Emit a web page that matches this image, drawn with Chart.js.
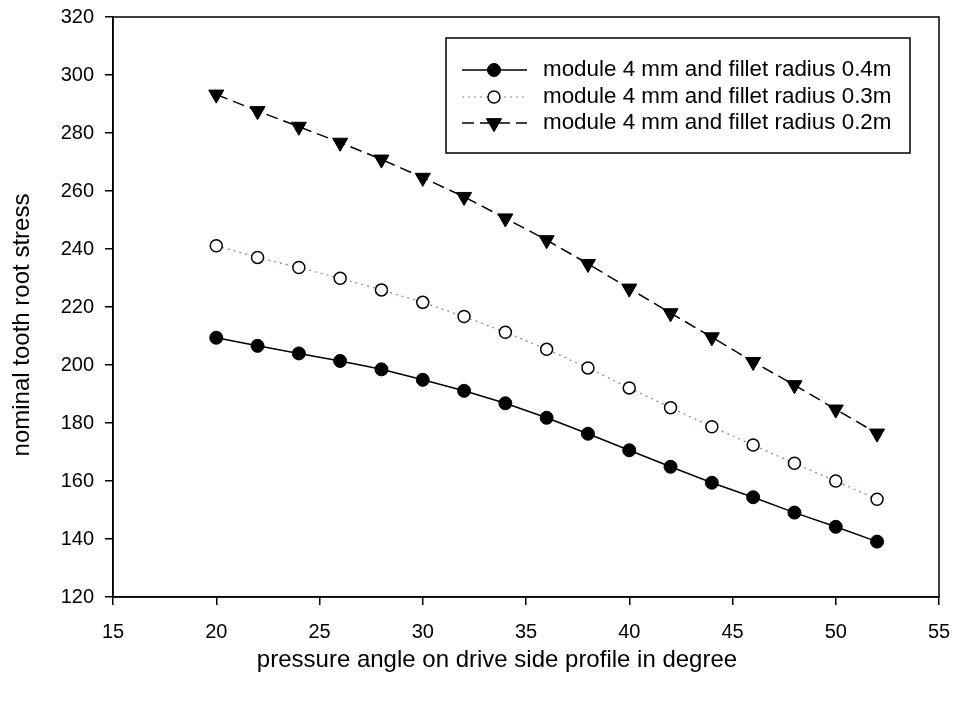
<!DOCTYPE html>
<html>
<head>
<meta charset="utf-8">
<script src="https://cdn.jsdelivr.net/npm/chart.js@4/dist/chart.umd.min.js"></script>
<style>
html,body{margin:0;padding:0;background:#fff;}
#wrap{width:955px;height:701px;position:relative;}
</style>
</head>
<body>
<div id="wrap"><canvas id="c" width="955" height="701"></canvas></div>
<script>
const angles = [20,22,24,26,28,30,32,34,36,38,40,42,44,46,48,50,52];
const stress04 = [209.4,206.6,204.0,201.4,198.5,194.9,191.1,186.8,181.8,176.3,170.6,164.9,159.4,154.4,149.1,144.2,139.1];
const stress03 = [241.1,237.1,233.6,229.9,225.9,221.6,216.7,211.3,205.4,199.0,192.1,185.3,178.7,172.4,166.1,160.0,153.7];
const stress02 = [293.3,287.6,282.2,276.7,270.9,264.6,258.0,250.6,243.1,234.9,226.4,217.9,209.6,201.1,193.1,184.7,176.4];
const seriesLabels = ['module 4 mm and fillet radius 0.4m','module 4 mm and fillet radius 0.3m','module 4 mm and fillet radius 0.2m'];
const xTitle = 'pressure angle on drive side profile in degree';
const yTitle = 'nominal tooth root stress';

const FONT = "'Liberation Sans', Arial, sans-serif";
const toPts = ys => angles.map((a,i)=>({x:a,y:ys[i]}));

const frame = {
  id:'frame',
  afterDraw(chart){
    const {ctx, chartArea:a} = chart;
    ctx.save();
    ctx.strokeStyle='#000'; ctx.lineWidth=1.5;
    ctx.strokeRect(a.left, a.top, a.right-a.left, a.bottom-a.top);
    ctx.restore();
  }
};

const axisTitles = {
  id:'axisTitles',
  afterDraw(chart){
    const ctx = chart.ctx;
    ctx.save();
    ctx.fillStyle='#000';
    ctx.font='24px '+FONT;
    ctx.textAlign='center'; ctx.textBaseline='middle';
    ctx.fillText(xTitle, 497, 660);
    ctx.translate(22, 325);
    ctx.rotate(-Math.PI/2);
    ctx.fillText(yTitle, 0, 0);
    ctx.restore();
  }
};

const boxLegend = {
  id:'boxLegend',
  afterDraw(chart){
    const ctx = chart.ctx;
    ctx.save();
    ctx.fillStyle='#fff';
    ctx.fillRect(446,38,464,115);
    ctx.strokeStyle='#000'; ctx.lineWidth=1.5;
    ctx.strokeRect(446,38,464,115);
    const rows=[70,97,123];
    chart.data.datasets.forEach((ds,i)=>{
      const y=rows[i];
      ctx.save();
      ctx.strokeStyle=ds.borderColor; ctx.lineWidth=ds.borderWidth;
      ctx.setLineDash(ds.borderDash||[]);
      ctx.beginPath(); ctx.moveTo(462,y); ctx.lineTo(527,y); ctx.stroke();
      ctx.restore();
      const mx=494;
      ctx.save();
      ctx.setLineDash([]);
      ctx.lineWidth=ds.pointBorderWidth; ctx.strokeStyle='#000'; ctx.fillStyle=ds.pointBackgroundColor;
      ctx.beginPath();
      if(ds.pointStyle==='triangle'){
        const r=ds.pointRadius;
        const h=r*Math.sqrt(3)/2;
        ctx.moveTo(mx-h, y-r*0.5); ctx.lineTo(mx+h, y-r*0.5); ctx.lineTo(mx, y+r); ctx.closePath();
      } else {
        ctx.arc(mx,y,ds.pointRadius,0,Math.PI*2);
      }
      ctx.fill(); ctx.stroke();
      ctx.restore();
      ctx.fillStyle='#000'; ctx.font='22.4px '+FONT; ctx.textBaseline='middle'; ctx.textAlign='left';
      ctx.fillText(ds.label, 543, y);
    });
    ctx.restore();
  }
};

new Chart(document.getElementById('c'), {
  type:'scatter',
  data:{datasets:[
    {label:seriesLabels[0], data:toPts(stress04), showLine:true, borderColor:'#000', borderWidth:1.5,
     pointStyle:'circle', pointRadius:6.5, pointBackgroundColor:'#000', pointBorderColor:'#000', pointBorderWidth:1},
    {label:seriesLabels[1], data:toPts(stress03), showLine:true, borderColor:'#a66cb0', borderWidth:1.2, borderDash:[2,4],
     pointStyle:'circle', pointRadius:6, pointBackgroundColor:'#fff', pointBorderColor:'#000', pointBorderWidth:1.5},
    {label:seriesLabels[2], data:toPts(stress02), showLine:true, borderColor:'#000', borderWidth:1.5, borderDash:[12,6],
     pointStyle:'triangle', pointRotation:180, pointRadius:8.7, pointBackgroundColor:'#000', pointBorderColor:'#000', pointBorderWidth:1}
  ]},
  options:{
    responsive:false, animation:false,
    layout:{padding:{left:0,right:16,top:17,bottom:0}},
    plugins:{legend:{display:false}, tooltip:{enabled:false}},
    scales:{
      x:{type:'linear', min:15, max:55,
        ticks:{stepSize:5, color:'#000', font:{family:FONT,size:20}, padding:15},
        grid:{display:true, drawOnChartArea:false, drawTicks:true, tickLength:8, color:'#000', lineWidth:1.5},
        border:{display:true, color:'#000', width:1.5},
        title:{display:false},
        afterFit(s){ s.height=104; s.paddingLeft=0; s.paddingRight=0; }
      },
      y:{type:'linear', min:120, max:320,
        ticks:{stepSize:20, color:'#000', font:{family:FONT,size:20}, padding:11},
        grid:{display:true, drawOnChartArea:false, drawTicks:true, tickLength:8, color:'#000', lineWidth:1.5},
        border:{display:true, color:'#000', width:1.5},
        title:{display:false},
        afterFit(s){ s.width=113; s.paddingTop=0; s.paddingBottom=0; }
      }
    }
  },
  plugins:[frame, axisTitles, boxLegend]
});
</script>
</body>
</html>
